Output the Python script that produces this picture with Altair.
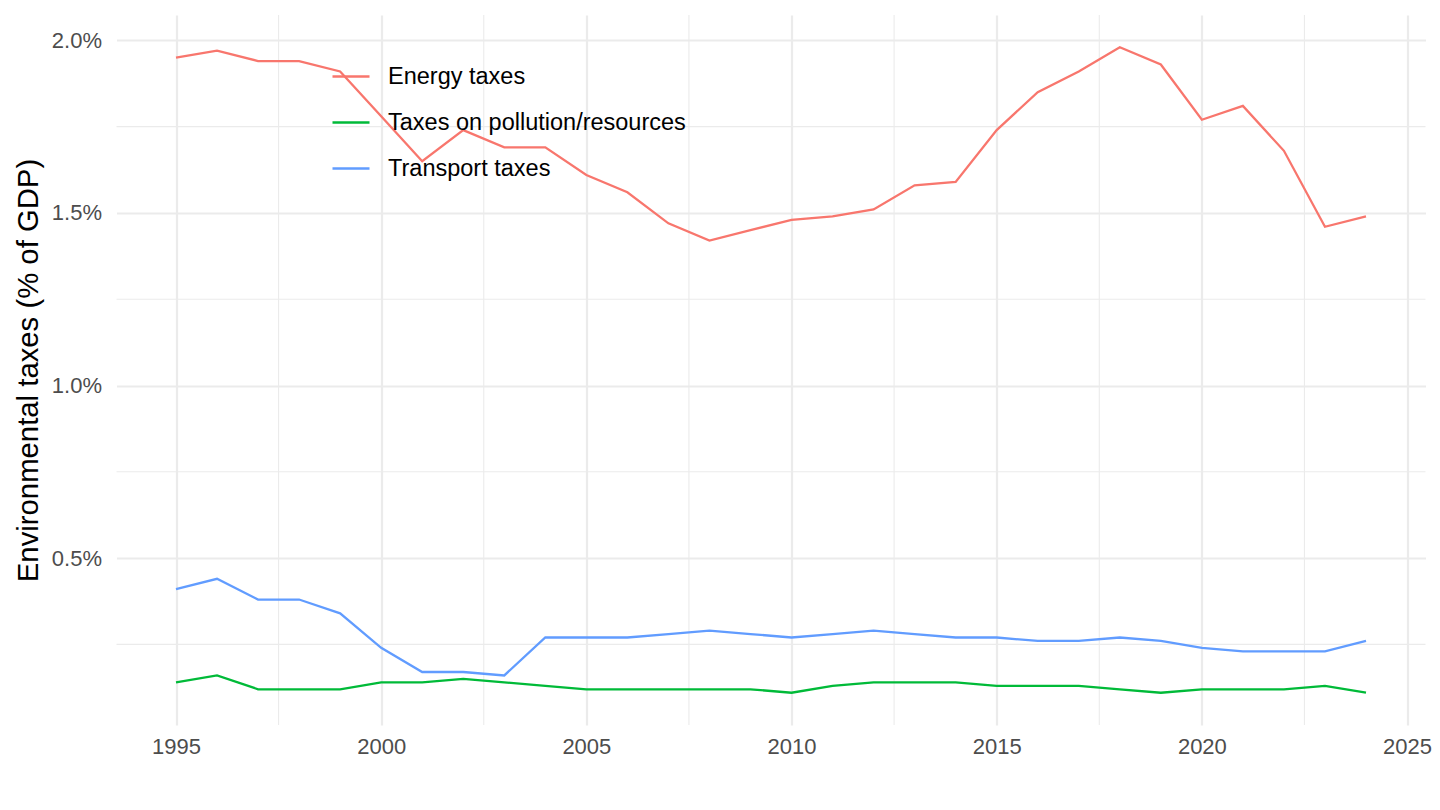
import altair as alt
import pandas as pd

years = list(range(1995, 2025))
energy = [1.95, 1.97, 1.94, 1.94, 1.91, 1.78, 1.65, 1.74, 1.69, 1.69,
          1.61, 1.56, 1.47, 1.42, 1.45, 1.48, 1.49, 1.51, 1.58, 1.59,
          1.74, 1.85, 1.91, 1.98, 1.93, 1.77, 1.81, 1.68, 1.46, 1.49]
pollution = [0.14, 0.16, 0.12, 0.12, 0.12, 0.14, 0.14, 0.15, 0.14, 0.13,
             0.12, 0.12, 0.12, 0.12, 0.12, 0.11, 0.13, 0.14, 0.14, 0.14,
             0.13, 0.13, 0.13, 0.12, 0.11, 0.12, 0.12, 0.12, 0.13, 0.11]
transport = [0.41, 0.44, 0.38, 0.38, 0.34, 0.24, 0.17, 0.17, 0.16, 0.27,
             0.27, 0.27, 0.28, 0.29, 0.28, 0.27, 0.28, 0.29, 0.28, 0.27,
             0.27, 0.26, 0.26, 0.27, 0.26, 0.24, 0.23, 0.23, 0.23, 0.26]
series_names = ["Energy taxes", "Taxes on pollution/resources", "Transport taxes"]
colors = ["#F8766D", "#00BA38", "#619CFF"]
x_ticks = [1995, 2000, 2005, 2010, 2015, 2020, 2025]
x_minor = [1997.5, 2002.5, 2007.5, 2012.5, 2017.5, 2022.5]
y_ticks = [0.5, 1.0, 1.5, 2.0]
y_minor = [0.25, 0.75, 1.25, 1.75]

rows = []
for name, vals in zip(series_names, [energy, pollution, transport]):
    for yr, v in zip(years, vals):
        rows.append({"year": yr, "value": v, "series": name})
df = pd.DataFrame(rows)

FONT = "Liberation Sans"
GRID = "#EBEBEB"

xscale = alt.Scale(domain=[1993.55, 2025.45], nice=False, zero=False)
yscale = alt.Scale(domain=[0.0165, 2.0735], nice=False, zero=False)

x_axis = alt.Axis(
    values=x_ticks, format="d", title=None, grid=True,
    gridColor=GRID, gridWidth=2.2, domain=False, ticks=False,
    labelFont=FONT, labelFontSize=22, labelColor="#4D4D4D",
    labelPadding=11,
)
y_axis = alt.Axis(
    values=y_ticks, labelExpr="format(datum.value, '.1f') + '%'",
    title="Environmental taxes (% of GDP)", grid=True,
    gridColor=GRID, gridWidth=2.2, domain=False, ticks=False,
    labelFont=FONT, labelFontSize=22, labelColor="#4D4D4D",
    labelPadding=15, titleFont=FONT, titleFontSize=29.3,
    titleFontWeight="normal", titleColor="#000000", titlePadding=8,
)

minor_x = alt.Chart(pd.DataFrame({"x": x_minor})).mark_rule(
    color=GRID, strokeWidth=1.1
).encode(x=alt.X("x:Q", scale=xscale, axis=x_axis))

minor_y = alt.Chart(pd.DataFrame({"y": y_minor})).mark_rule(
    color=GRID, strokeWidth=1.1
).encode(y=alt.Y("y:Q", scale=yscale, axis=y_axis))

lines = alt.Chart(df).mark_line(strokeWidth=2.3).encode(
    x=alt.X("year:Q", scale=xscale, axis=x_axis),
    y=alt.Y("value:Q", scale=yscale, axis=y_axis),
    color=alt.Color(
        "series:N",
        scale=alt.Scale(domain=series_names, range=colors),
        legend=alt.Legend(
            title=None, orient="none", legendX=214.5, legendY=41.5,
            symbolType="stroke", symbolSize=1369, symbolStrokeWidth=2.3,
            labelFont=FONT, labelFontSize=23.5, labelColor="#000000",
            labelOffset=17, rowPadding=14, labelLimit=1000,
        ),
    ),
)

chart = alt.layer(minor_x, minor_y, lines).properties(
    width=1309, height=710,
    autosize=alt.AutoSizeParams(type="none"),
    padding={"left": 108.5, "top": 7, "right": 6, "bottom": 60},
    background="white",
).configure_view(stroke=None)

chart.save("out.html", embed_options={"renderer": "svg", "actions": False})
